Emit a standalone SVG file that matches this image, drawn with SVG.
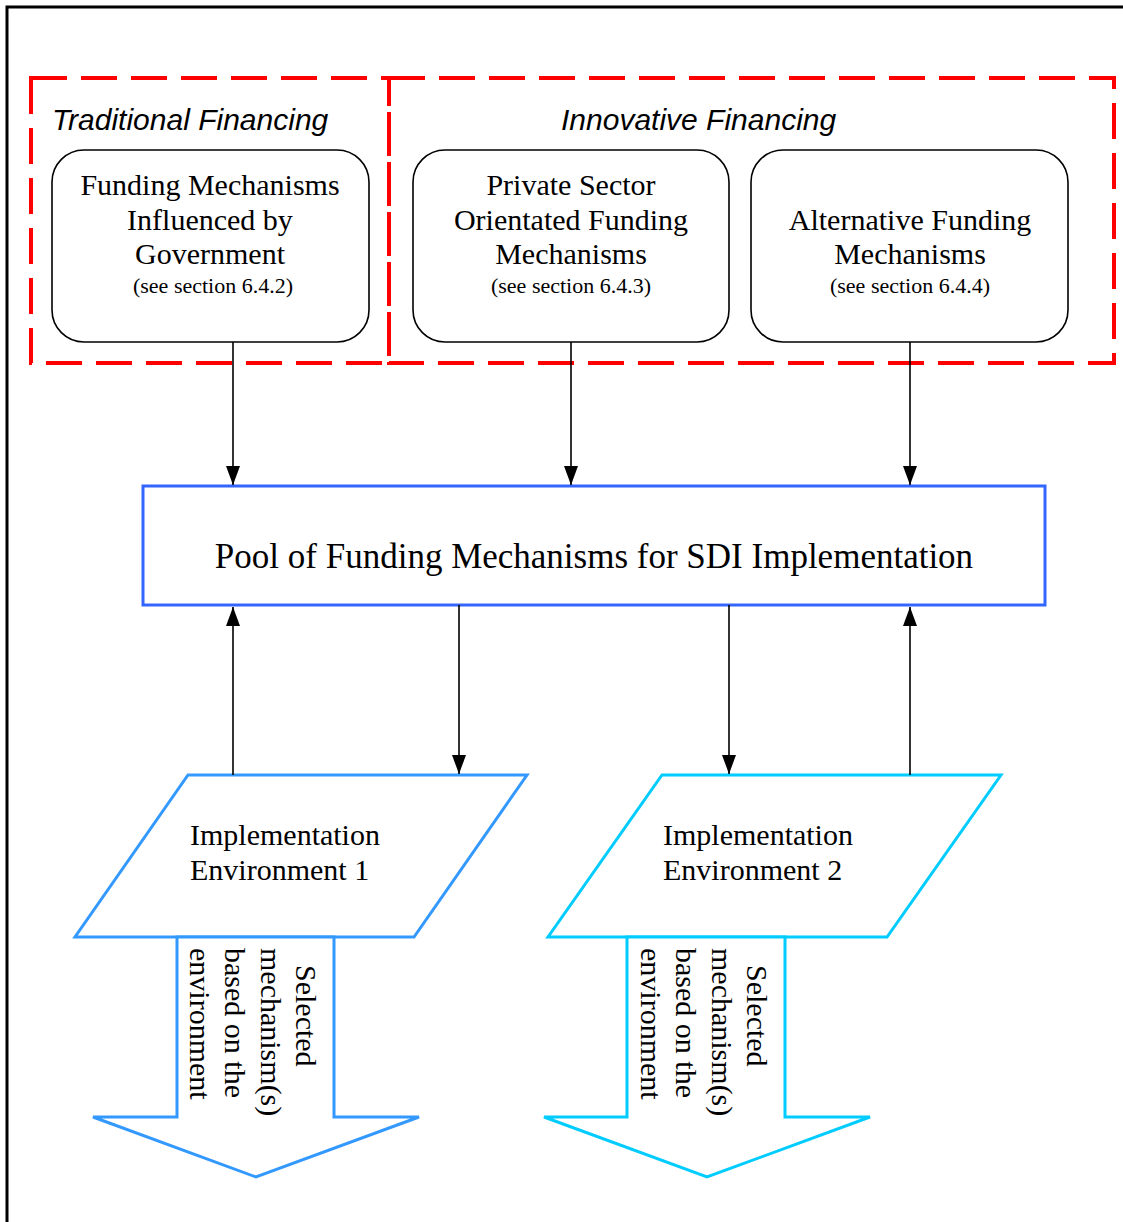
<svg xmlns="http://www.w3.org/2000/svg" width="1123" height="1222" viewBox="0 0 1123 1222">
<defs>
<style>
.frame{fill:none;stroke:#000;stroke-width:3}
.dash{fill:none;stroke:#ff0000;stroke-width:4;stroke-dasharray:36 14}
.rbox{fill:#fff;stroke:#000;stroke-width:1.6}
.serif{font-family:"Liberation Serif","Times New Roman",serif;fill:#000}
.t30{font-size:30px}
.t22{font-size:22px}
.ital{font-family:"Liberation Sans",Arial,sans-serif;font-style:italic;font-size:30px;fill:#000}
.conn{fill:none;stroke:#000;stroke-width:1.6}
.blue1{fill:#fff;stroke:#3399ff;stroke-width:3}
.blue2{fill:#fff;stroke:#00ccff;stroke-width:3}
.pool{fill:#fff;stroke:#3366ff;stroke-width:3}
</style>
<marker id="ah" markerUnits="userSpaceOnUse" markerWidth="20" markerHeight="16" refX="19" refY="8" orient="auto">
<path d="M0,1 L19,8 L0,15 z" fill="#000"/>
</marker>
</defs>
<rect width="1123" height="1222" fill="#fff"/>
<rect class="frame" x="7" y="7" width="1130" height="1230"/>

<g id="traditional-group">
<rect class="dash" x="31" y="78" width="358" height="285"/>
<text class="ital" x="52" y="130">Traditional Financing</text>
</g>
<g id="innovative-group">
<rect class="dash" x="389" y="78" width="725" height="285"/>
<text class="ital" x="561" y="130">Innovative Financing</text>
</g>

<g id="box-government">
<rect class="rbox" x="52" y="150" width="317" height="192" rx="32" ry="32"/>
<text class="serif t30" text-anchor="middle" x="210" y="195">Funding Mechanisms</text>
<text class="serif t30" text-anchor="middle" x="210" y="230">Influenced by</text>
<text class="serif t30" text-anchor="middle" x="210" y="264">Government</text>
<text class="serif t22" text-anchor="middle" x="213" y="293">(see section 6.4.2)</text>
</g>
<g id="box-private">
<rect class="rbox" x="413" y="150" width="316" height="192" rx="32" ry="32"/>
<text class="serif t30" text-anchor="middle" x="571" y="195">Private Sector</text>
<text class="serif t30" text-anchor="middle" x="571" y="230">Orientated Funding</text>
<text class="serif t30" text-anchor="middle" x="571" y="264">Mechanisms</text>
<text class="serif t22" text-anchor="middle" x="571" y="293">(see section 6.4.3)</text>
</g>
<g id="box-alternative">
<rect class="rbox" x="751" y="150" width="317" height="192" rx="32" ry="32"/>
<text class="serif t30" text-anchor="middle" x="910" y="230">Alternative Funding</text>
<text class="serif t30" text-anchor="middle" x="910" y="264">Mechanisms</text>
<text class="serif t22" text-anchor="middle" x="910" y="293">(see section 6.4.4)</text>
</g>

<g id="pool">
<rect class="pool" x="143" y="486" width="902" height="119"/>
<text class="serif" font-size="35" text-anchor="middle" x="594" y="568">Pool of Funding Mechanisms for SDI Implementation</text>
</g>

<g id="env1">
<polygon class="blue1" points="188,775 527,775 414,937 75,937"/>
<text class="serif t30" x="190" y="845">Implementation</text>
<text class="serif t30" x="190" y="880">Environment 1</text>
</g>
<g id="arrow1">
<polygon class="blue1" points="177,937 334,937 334,1117 419,1117 256,1177 93,1117 177,1117"/>
<g transform="rotate(90)">
<text class="serif t30" x="965" y="-296">Selected</text>
<text class="serif t30" x="948" y="-261">mechanism(s)</text>
<text class="serif t30" x="948" y="-225">based on the</text>
<text class="serif t30" x="948" y="-190">environment</text>
</g>
</g>

<g id="env2">
<polygon class="blue2" points="662,775 1001,775 887,937 548,937"/>
<text class="serif t30" x="663" y="845">Implementation</text>
<text class="serif t30" x="663" y="880">Environment 2</text>
</g>
<g id="arrow2">
<polygon class="blue2" points="627,937 785,937 785,1117 870,1117 707,1177 544,1117 627,1117"/>
<g transform="rotate(90)">
<text class="serif t30" x="965" y="-747">Selected</text>
<text class="serif t30" x="948" y="-712">mechanism(s)</text>
<text class="serif t30" x="948" y="-676">based on the</text>
<text class="serif t30" x="948" y="-641">environment</text>
</g>
</g>

<g id="connectors">
<line class="conn" x1="233" y1="342" x2="233" y2="485" marker-end="url(#ah)"/>
<line class="conn" x1="571" y1="342" x2="571" y2="485" marker-end="url(#ah)"/>
<line class="conn" x1="910" y1="342" x2="910" y2="485" marker-end="url(#ah)"/>
<line class="conn" x1="233" y1="775" x2="233" y2="607" marker-end="url(#ah)"/>
<line class="conn" x1="459" y1="605" x2="459" y2="774" marker-end="url(#ah)"/>
<line class="conn" x1="729" y1="605" x2="729" y2="774" marker-end="url(#ah)"/>
<line class="conn" x1="910" y1="775" x2="910" y2="607" marker-end="url(#ah)"/>
</g>
</svg>
